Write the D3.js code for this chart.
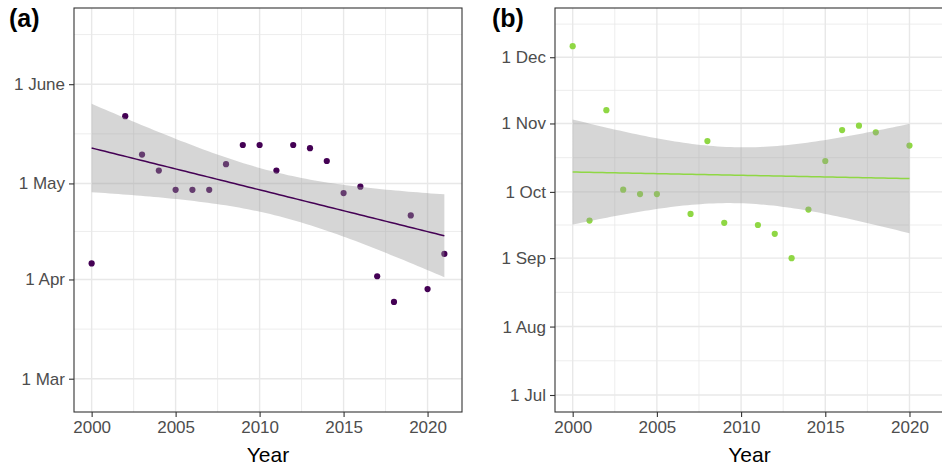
<!DOCTYPE html>
<html>
<head>
<meta charset="utf-8">
<script src="https://cdn.jsdelivr.net/npm/d3@7"></script>
<style>
  body { margin: 0; background: #fff; }
  svg { display: block; font-family: "Liberation Sans", Arial, sans-serif; }
</style>
</head>
<body>
<svg id="chart" width="942" height="472"></svg>
<script>
// panel (a): spring dates (day of year)
const yearsA = [2000, 2002, 2003, 2004, 2005, 2006, 2007, 2008, 2009, 2010, 2011,
  2012, 2013, 2014, 2015, 2016, 2017, 2018, 2019, 2020, 2021]
const doyA = [96, 142, 130, 125, 119, 119, 119, 127, 133, 133, 125,
  133, 132, 128, 118, 120, 92, 84, 111, 88, 99]

// panel (b): autumn dates (day of year)
const yearsB = [2000, 2001, 2002, 2003, 2004, 2005, 2007, 2008, 2009, 2011,
  2012, 2013, 2014, 2015, 2016, 2017, 2018, 2020]
const doyB = [340, 261, 311, 275, 273, 273, 264, 297, 260, 259,
  255, 244, 266, 288, 302, 304, 301, 295]

const yearTicks = [2000, 2005, 2010, 2015, 2020]
const breaksA = [60, 91, 121, 152]
const labelsA = ['1 Mar', '1 Apr', '1 May', '1 June']
const breaksB = [182, 213, 244, 274, 305, 335]
const labelsB = ['1 Jul', '1 Aug', '1 Sep', '1 Oct', '1 Nov', '1 Dec']

// t quantiles (0.975) for the 95% band
const T975 = { 16: 2.120, 19: 2.093 }

const svg = d3.select('#chart')

function midBreaks(b, lo, hi) {
  const ext = [b[0] - (b[1] - b[0]), ...b, b[b.length - 1] + (b[b.length - 1] - b[b.length - 2])]
  const out = []
  for (let i = 0; i < ext.length - 1; i++) {
    const m = (ext[i] + ext[i + 1]) / 2
    if (m >= lo && m <= hi) out.push(m)
  }
  return out
}

function linFit(xs, ys) {
  const n = xs.length
  const mx = d3.mean(xs), my = d3.mean(ys)
  let sxx = 0, sxy = 0
  xs.forEach((x, i) => { sxx += (x - mx) ** 2; sxy += (x - mx) * (ys[i] - my) })
  const slope = sxy / sxx
  const icpt = my - slope * mx
  let sse = 0
  xs.forEach((x, i) => { sse += (ys[i] - (icpt + slope * x)) ** 2 })
  const s = Math.sqrt(sse / (n - 2))
  const t = T975[n - 2]
  const [x0, x1] = d3.extent(xs)
  const pts = d3.range(80).map(i => {
    const x = x0 + (x1 - x0) * i / 79
    const fit = icpt + slope * x
    const se = s * Math.sqrt(1 / n + (x - mx) ** 2 / sxx)
    return { x, fit, lo: fit - t * se, hi: fit + t * se }
  })
  return pts
}

function drawPanel(opt) {
  const { left, right, top, bottom, xs, ys, yDomain, breaks, labels, color, tag } = opt
  const g = svg.append('g')

  const x = d3.scaleLinear().domain([1998.95, 2022.05]).range([left, right])
  const y = d3.scaleLinear().domain(yDomain).range([bottom, top])

  // grid
  const minorX = midBreaks(yearTicks, 1998.95, 2022.05)
  const minorY = midBreaks(breaks, yDomain[0], yDomain[1])
  g.selectAll('.mx').data(minorX).join('line')
    .attr('x1', d => x(d)).attr('x2', d => x(d)).attr('y1', top).attr('y2', bottom)
    .attr('stroke', '#e8e8e8').attr('stroke-width', 0.8)
  g.selectAll('.my').data(minorY).join('line')
    .attr('y1', d => y(d)).attr('y2', d => y(d)).attr('x1', left).attr('x2', right)
    .attr('stroke', '#e8e8e8').attr('stroke-width', 0.8)
  g.selectAll('.gx').data(yearTicks).join('line')
    .attr('x1', d => x(d)).attr('x2', d => x(d)).attr('y1', top).attr('y2', bottom)
    .attr('stroke', '#e8e8e8').attr('stroke-width', 1.4)
  g.selectAll('.gy').data(breaks).join('line')
    .attr('y1', d => y(d)).attr('y2', d => y(d)).attr('x1', left).attr('x2', right)
    .attr('stroke', '#e8e8e8').attr('stroke-width', 1.4)

  // points
  g.selectAll('circle').data(xs).join('circle')
    .attr('cx', d => x(d)).attr('cy', (d, i) => y(ys[i]))
    .attr('r', 3.1).attr('fill', color)

  // smoother band + line
  const fit = linFit(xs, ys)
  g.append('path')
    .attr('d', d3.area().x(d => x(d.x)).y0(d => y(d.lo)).y1(d => y(d.hi))(fit))
    .attr('fill', '#999999').attr('fill-opacity', 0.4)
  g.append('path')
    .attr('d', d3.line().x(d => x(d.x)).y(d => y(d.fit))(fit))
    .attr('fill', 'none').attr('stroke', color).attr('stroke-width', 1.5)

  // border
  g.append('rect')
    .attr('x', left).attr('y', top).attr('width', right - left).attr('height', bottom - top)
    .attr('fill', 'none').attr('stroke', '#333333').attr('stroke-width', 1.1)

  // axes
  const ax = g.append('g').attr('transform', `translate(0,${bottom})`)
    .call(d3.axisBottom(x).tickValues(yearTicks).tickFormat(d3.format('d')).tickSize(5).tickPadding(4))
  const ay = g.append('g').attr('transform', `translate(${left},0)`)
    .call(d3.axisLeft(y).tickValues(breaks).tickFormat((d, i) => labels[i]).tickSize(5).tickPadding(4))
  ;[ax, ay].forEach(a => {
    a.select('.domain').remove()
    a.selectAll('line').attr('stroke', '#333333').attr('stroke-width', 1.1)
    a.selectAll('text').attr('fill', '#4d4d4d').style('font-size', '17px')
      .style('font-family', '"Liberation Sans", Arial, sans-serif')
  })

  g.append('text')
    .attr('x', (left + right) / 2).attr('y', 462)
    .attr('text-anchor', 'middle').attr('fill', '#000')
    .style('font-size', '21px')
    .text('Year')

  g.append('text')
    .attr('x', opt.tagX).attr('y', 27)
    .attr('fill', '#000').style('font-size', '25px').style('font-weight', 'bold')
    .text(tag)
}

drawPanel({
  left: 74, right: 462, top: 8, bottom: 412,
  xs: yearsA, ys: doyA, yDomain: [49.6, 175.8],
  breaks: breaksA, labels: labelsA, color: '#440154', tag: '(a)', tagX: 9
})

drawPanel({
  left: 555, right: 944, top: 8, bottom: 412,
  xs: yearsB, ys: doyB, yDomain: [174.3, 357.3],
  breaks: breaksB, labels: labelsB, color: '#8fd744', tag: '(b)', tagX: 492
})
</script>
</body>
</html>
